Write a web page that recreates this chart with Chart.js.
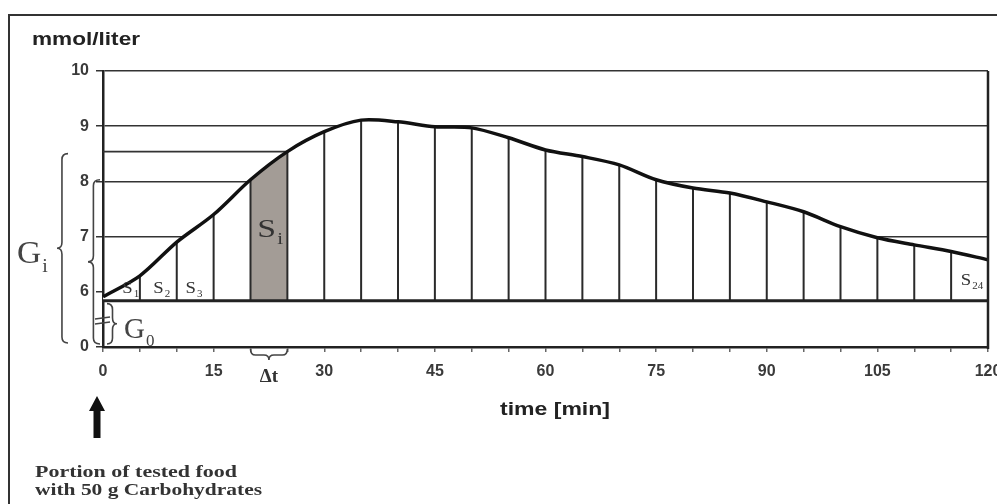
<!DOCTYPE html>
<html>
<head>
<meta charset="utf-8">
<title>Glucose response curve</title>
<script src="https://cdn.jsdelivr.net/npm/chart.js@4.4.1/dist/chart.umd.min.js"></script>
<style>
  html, body { margin: 0; padding: 0; background: #fff; }
  #wrap { position: relative; width: 997px; height: 504px; overflow: hidden; }
</style>
</head>
<body>
<div id="wrap"><canvas id="gluChart" width="997" height="504"></canvas></div>
<script>
// ---- data ----
const times = [0, 5, 10, 15, 20, 25, 30, 35, 40, 45, 50, 55, 60, 65, 70, 75, 80, 85, 90, 95, 100, 105, 110, 115, 120];
const glucose = [5.91, 6.29, 6.90, 7.40, 8.03, 8.54, 8.90, 9.11, 9.08, 8.99, 8.97, 8.79, 8.57, 8.45, 8.30,
                 8.03, 7.88, 7.79, 7.63, 7.45, 7.18, 6.98, 6.85, 6.73, 6.58];
const fastingLevel = 5.84;            // G0 (baseline)
const shadedSlice = [20, 25];         // the S_i strip
const yTickValues = [5, 6, 7, 8, 9, 10];
const yTickLabels = ['0', '6', '7', '8', '9', '10'];   // axis is broken below 6
const xLabelStep = 15;
const curveTension = 0.3;

// ---- datasets built from the arrays ----
const curvePts = times.map((t, i) => ({ x: t, y: glucose[i] }));

const stripPts = [];
times.forEach((t, i) => {
  if (i === 0) return;
  stripPts.push({ x: t, y: fastingLevel }, { x: t, y: glucose[i] }, { x: t, y: null });
});

const iA = times.indexOf(shadedSlice[0]);
const iB = times.indexOf(shadedSlice[1]);
const slicePts = [{ x: shadedSlice[0], y: glucose[iA] }, { x: shadedSlice[1], y: glucose[iB] }];
const levelPts = [{ x: 0, y: glucose[iB] }, { x: shadedSlice[1], y: glucose[iB] }];
const basePts = [{ x: times[0], y: fastingLevel }, { x: times[times.length - 1], y: fastingLevel }];

// ---- drawing helpers for the annotations ----
function fitText(ctx, txt, x, y, font, width) {
  ctx.save();
  ctx.font = font;
  const m = ctx.measureText(txt).width;
  ctx.translate(x, y);
  ctx.scale(width ? width / m : 1, 1);
  ctx.fillText(txt, 0, 0);
  ctx.restore();
}

function subText(ctx, main, sub, x, y, size, subSize, sx) {
  ctx.save();
  ctx.translate(x, y);
  ctx.scale(sx, 1);
  ctx.font = size + 'px "Liberation Serif", "Times New Roman", serif';
  ctx.fillText(main, 0, 0);
  const w = ctx.measureText(main).width;
  ctx.font = subSize + 'px "Liberation Serif", "Times New Roman", serif';
  ctx.fillText(sub, w + 1, subSize * 0.45);
  ctx.restore();
}

// vertical curly brace, open side at x0, tip towards dir
function vBrace(ctx, x0, y1, y2, dir, w) {
  const xm = x0 + dir * w * 0.55, xt = x0 + dir * w, ym = (y1 + y2) / 2, r = 6;
  ctx.beginPath();
  ctx.moveTo(x0, y1);
  ctx.quadraticCurveTo(xm, y1, xm, y1 + r);
  ctx.lineTo(xm, ym - r);
  ctx.quadraticCurveTo(xm, ym, xt, ym);
  ctx.quadraticCurveTo(xm, ym, xm, ym + r);
  ctx.lineTo(xm, y2 - r);
  ctx.quadraticCurveTo(xm, y2, x0, y2);
  ctx.stroke();
}

function hBrace(ctx, y0, x1, x2, dir, h) {
  const ym = y0 + dir * h * 0.55, yt = y0 + dir * h, xm = (x1 + x2) / 2, r = 5;
  ctx.beginPath();
  ctx.moveTo(x1, y0);
  ctx.quadraticCurveTo(x1, ym, x1 + r, ym);
  ctx.lineTo(xm - r, ym);
  ctx.quadraticCurveTo(xm, ym, xm, yt);
  ctx.quadraticCurveTo(xm, ym, xm + r, ym);
  ctx.lineTo(x2 - r, ym);
  ctx.quadraticCurveTo(x2, ym, x2, y0);
  ctx.stroke();
}

const figureNotes = {
  id: 'figureNotes',
  beforeDraw(chart) {
    const ctx = chart.ctx;
    ctx.save();
    ctx.strokeStyle = '#333';
    ctx.lineWidth = 2;
    ctx.beginPath();
    ctx.moveTo(9, 504);
    ctx.lineTo(9, 15);
    ctx.lineTo(997, 15);
    ctx.stroke();
    ctx.restore();
  },
  afterDraw(chart) {
    const ctx = chart.ctx;
    const xs = chart.scales.x, ys = chart.scales.y, area = chart.chartArea;
    ctx.save();

    // right border of the plot box
    ctx.strokeStyle = '#222';
    ctx.lineWidth = 2.5;
    ctx.beginPath();
    ctx.moveTo(area.right, area.top);
    ctx.lineTo(area.right, area.bottom + 2);
    ctx.stroke();

    ctx.fillStyle = '#222';
    ctx.textBaseline = 'alphabetic';

    // axis titles
    fitText(ctx, 'mmol/liter', 32, 45, 'bold 18px "Liberation Sans", Arial, sans-serif', 108);
    fitText(ctx, 'time [min]', 500, 415, 'bold 18px "Liberation Sans", Arial, sans-serif', 110);

    // strip labels
    ctx.fillStyle = '#333';
    const yLab = ys.getPixelForValue(fastingLevel) - 8;
    [[2.6, '1'], [6.8, '2'], [11.2, '3']].forEach(([t, n]) => {
      subText(ctx, 'S', n, xs.getPixelForValue(t), yLab, 17, 10, 1.1);
    });
    subText(ctx, 'S', '24', xs.getPixelForValue(116.3), yLab - 8, 17, 10, 1.1);
    subText(ctx, 'S', 'i', xs.getPixelForValue(20.9), ys.getPixelForValue(7.0), 26, 16, 1.3);

    // braces
    ctx.strokeStyle = '#444';
    ctx.lineWidth = 1.6;
    const yBase = ys.getPixelForValue(5);
    vBrace(ctx, 68, ys.getPixelForValue(glucose[iB]) + 2, yBase - 4, -1, 11);
    vBrace(ctx, 100, ys.getPixelForValue(glucose[iA]), yBase - 3, -1, 12);
    vBrace(ctx, 107, ys.getPixelForValue(fastingLevel) + 3, yBase - 3, 1, 10);
    hBrace(ctx, area.bottom + 2, xs.getPixelForValue(shadedSlice[0]), xs.getPixelForValue(shadedSlice[1]), 1, 11);

    // axis break marks
    ctx.lineWidth = 1.4;
    ctx.beginPath();
    ctx.moveTo(95, 319); ctx.lineTo(110, 317);
    ctx.moveTo(95, 324); ctx.lineTo(110, 322);
    ctx.stroke();

    // G labels
    ctx.fillStyle = '#444';
    subText(ctx, 'G', 'i', 17, 263, 32, 19, 1.05);
    subText(ctx, 'G', '0', 124, 338, 29, 17, 1.0);

    // delta t
    ctx.save();
    ctx.fillStyle = '#333';
    ctx.font = 'bold 19px "Liberation Serif", "Times New Roman", serif';
    ctx.textAlign = 'center';
    ctx.fillText('\u0394t', (xs.getPixelForValue(shadedSlice[0]) + xs.getPixelForValue(shadedSlice[1])) / 2, 382);
    ctx.restore();

    // meal arrow at t = 0
    const ax = xs.getPixelForValue(0) - 6;
    ctx.fillStyle = '#111';
    ctx.beginPath();
    ctx.moveTo(ax, 396);
    ctx.lineTo(ax + 8, 411);
    ctx.lineTo(ax + 3.5, 411);
    ctx.lineTo(ax + 3.5, 438);
    ctx.lineTo(ax - 3.5, 438);
    ctx.lineTo(ax - 3.5, 411);
    ctx.lineTo(ax - 8, 411);
    ctx.closePath();
    ctx.fill();

    ctx.fillStyle = '#333';
    fitText(ctx, 'Portion of tested food', 35, 477, 'bold 17px "Liberation Serif", "Times New Roman", serif', 202);
    fitText(ctx, 'with 50 g Carbohydrates', 35, 495, 'bold 17px "Liberation Serif", "Times New Roman", serif', 227);

    ctx.restore();
  }
};

Chart.defaults.font.family = '"Liberation Sans", Arial, sans-serif';

new Chart(document.getElementById('gluChart'), {
  type: 'line',
  data: {
    datasets: [
      { // white area under the curve (hides grid lines)
        data: curvePts, order: 10, borderWidth: 0, pointRadius: 0,
        tension: curveTension, backgroundColor: '#ffffff',
        fill: { value: fastingLevel }
      },
      { // shaded S_i slice
        data: slicePts, order: 9, borderWidth: 0, pointRadius: 0,
        backgroundColor: '#a39c96', fill: { value: fastingLevel }
      },
      { // G_i level line
        data: levelPts, order: 8, borderColor: '#333', borderWidth: 1.6, pointRadius: 0, fill: false
      },
      { // vertical strip edges every 5 min
        data: stripPts, order: 7, borderColor: '#2a2a2a', borderWidth: 2, pointRadius: 0,
        fill: false, spanGaps: false
      },
      { // fasting baseline G0
        data: basePts, order: 6, borderColor: '#222', borderWidth: 3, pointRadius: 0, fill: false, clip: false
      },
      { // glucose curve
        data: curvePts, order: 1, borderColor: '#111', borderWidth: 3.5, pointRadius: 0,
        tension: curveTension, fill: false, clip: false
      }
    ]
  },
  options: {
    responsive: false,
    animation: false,
    layout: { padding: { left: 0, top: 71, right: 9, bottom: 0 } },
    plugins: { legend: { display: false }, tooltip: { enabled: false } },
    scales: {
      x: {
        type: 'linear', min: 0, max: 120,
        afterBuildTicks: s => { s.ticks = times.map(v => ({ value: v })); },
        afterFit: s => { s.height = 157; s.paddingLeft = 0; s.paddingRight = 0; },
        ticks: {
          autoSkip: false, maxRotation: 0, padding: 10, color: '#3a3a3a',
          font: { size: 16, weight: 'bold' },
          callback: v => (v % xLabelStep === 0 ? String(v) : '')
        },
        grid: { drawOnChartArea: false, tickLength: 5, color: '#666', lineWidth: 1.5 },
        border: { color: '#222', width: 2.5 }
      },
      y: {
        min: 5, max: 10,
        afterBuildTicks: s => { s.ticks = yTickValues.map(v => ({ value: v })); },
        afterFit: s => { s.width = 103; s.paddingTop = 0; s.paddingBottom = 0; },
        ticks: {
          padding: 7, color: '#3a3a3a',
          font: { size: 16, weight: 'bold' },
          callback: v => yTickLabels[yTickValues.indexOf(v)]
        },
        grid: {
          color: c => (c.tick && c.tick.value <= 6 ? 'rgba(0,0,0,0)' : '#333'),
          tickColor: '#333', lineWidth: 1.5, tickLength: 7
        },
        border: { color: '#222', width: 2.5 }
      }
    }
  },
  plugins: [figureNotes]
});
</script>
</body>
</html>
